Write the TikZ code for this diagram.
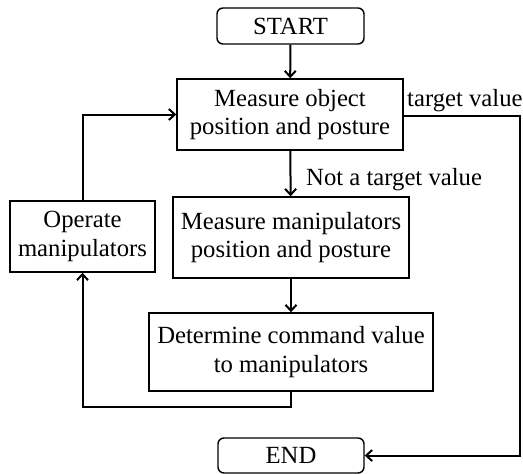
\documentclass[tikz,border=0pt]{standalone}
\usepackage{fontspec}
\setmainfont{Liberation Serif}
\usetikzlibrary{arrows.meta}
\begin{document}
\begin{tikzpicture}[x=1pt,y=-1pt,
  every node/.style={font=\fontsize{24.7}{28.5}\selectfont, align=center, inner sep=0pt},
  procbox/.style={draw, line width=1.4pt},
  termbox/.style={draw, line width=1.4pt, rounded corners=6pt},
  flow/.style={line width=2pt, -{Straight Barb[length=6pt,width=11pt,line width=2pt]}},
  plain/.style={line width=2pt}]
\useasboundingbox (0,0) rectangle (523,474);

% terminals
\node[termbox, minimum width=147pt, minimum height=36pt] (start) at (290.5,26) {START};
\node[termbox, minimum width=146pt, minimum height=35pt] (end) at (291,455.5) {END};

% process steps
\node[procbox, minimum width=226pt, minimum height=71pt] (meas) at (290,114.5) {Measure object\\position and posture};
\node[procbox, minimum width=236pt, minimum height=81pt] (mm) at (291,237.5) {Measure manipulators\\position and posture};
\node[procbox, minimum width=284pt, minimum height=78pt] (det) at (291,352) {Determine command value\\to manipulators};
\node[procbox, minimum width=145pt, minimum height=71pt] (op) at (82.5,236.5) {Operate\\manipulators};

% corner points of the loop and exit paths
\coordinate (loopdown) at (291,407);
\coordinate (exitright) at (520,116);

% main flow
\draw[flow] (start) -- (meas);
\draw[flow] (meas) -- (mm);
\draw[flow] (mm) -- (det);

% feedback loop through the manipulator step
\draw[flow] (det.south) -- (loopdown) -| (op.south);
\draw[flow] (op.north) |- (meas.west);

% exit when the target value is reached
\draw[flow] (meas.east |- exitright) -- (exitright) |- (end.east);

% branch labels
\node[anchor=base west] (lbltarget) at (407,106) {target value};
\node[anchor=base west] (lblnot) at (306,185) {Not a target value};
\end{tikzpicture}
\end{document}
